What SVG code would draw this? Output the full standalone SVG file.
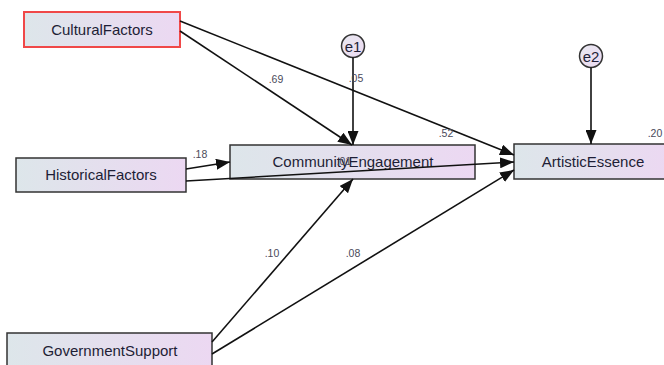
<svg xmlns="http://www.w3.org/2000/svg" width="664" height="365" viewBox="0 0 664 365">
<defs>
<linearGradient id="boxg" x1="0" y1="0" x2="1" y2="0">
<stop offset="0" stop-color="#dde6ea"/>
<stop offset="1" stop-color="#ecd8f2"/>
</linearGradient>
<linearGradient id="circg" x1="0" y1="0" x2="1" y2="1">
<stop offset="0" stop-color="#e8e8f0"/>
<stop offset="1" stop-color="#ecdaf2"/>
</linearGradient>
<marker id="arr" markerUnits="userSpaceOnUse" markerWidth="15" markerHeight="11" refX="14" refY="5.5" orient="auto">
<path d="M0,0 L14,5.5 L0,11 Z" fill="#111"/>
</marker>
</defs>
<style>
.box{fill:url(#boxg);stroke:#333;stroke-width:1.5}
.red{stroke:#f04848;stroke-width:2}
.circ{fill:url(#circg);stroke:#333;stroke-width:1.5}
.lbl{font-family:"Liberation Sans",Arial,sans-serif;font-size:15px;fill:#1e1e36;text-anchor:middle}
.elbl{font-family:"Liberation Sans",Arial,sans-serif;font-size:15px;fill:#1e1e36;text-anchor:middle}
.num{font-family:"Liberation Sans",Arial,sans-serif;font-size:10.5px;fill:#4a4a5a;text-anchor:middle}
.edge{stroke:#111;stroke-width:1.6;fill:none;marker-end:url(#arr)}
</style>
<g id="CulturalFactors">
<rect class="box red" x="24" y="12" width="156" height="35"/>
<text class="lbl" x="102" y="35">CulturalFactors</text>
</g>
<g id="HistoricalFactors">
<rect class="box" x="16" y="158" width="170" height="34"/>
<text class="lbl" x="101" y="180">HistoricalFactors</text>
</g>
<g id="CommunityEngagement">
<rect class="box" x="230" y="145" width="245" height="34"/>
<text class="lbl" x="353" y="167">CommunityEngagement</text>
</g>
<g id="ArtisticEssence">
<rect class="box" x="514" y="144" width="156" height="35"/>
<text class="lbl" x="593" y="167">ArtisticEssence</text>
</g>
<g id="GovernmentSupport">
<rect class="box" x="7" y="333" width="205" height="40"/>
<text class="lbl" x="110" y="356">GovernmentSupport</text>
</g>
<g id="e1">
<circle class="circ" cx="353" cy="46" r="11.5"/>
<text class="elbl" x="353" y="51.5">e1</text>
</g>
<g id="e2">
<circle class="circ" cx="591" cy="56" r="11.5"/>
<text class="elbl" x="591" y="61.5">e2</text>
</g>
<g id="connectors">
<line class="edge" x1="180" y1="31" x2="352" y2="145"/>
<line class="edge" x1="180" y1="21" x2="514" y2="155"/>
<line class="edge" x1="353" y1="57.5" x2="353" y2="145"/>
<line class="edge" x1="591" y1="67.5" x2="591" y2="144"/>
<line class="edge" x1="186" y1="169" x2="230" y2="162"/>
<line class="edge" x1="186" y1="181" x2="514" y2="162"/>
<line class="edge" x1="212" y1="342" x2="353" y2="179"/>
<line class="edge" x1="212" y1="354" x2="514" y2="170"/>
</g>
<g id="labels">
<text class="num" x="276" y="83">.69</text>
<text class="num" x="356" y="82">.05</text>
<text class="num" x="446" y="137">.52</text>
<text class="num" x="655" y="137">.20</text>
<text class="num" x="200" y="158">.18</text>
<text class="num" x="344" y="165">.01</text>
<text class="num" x="272" y="257">.10</text>
<text class="num" x="353" y="257">.08</text>
</g>
</svg>
